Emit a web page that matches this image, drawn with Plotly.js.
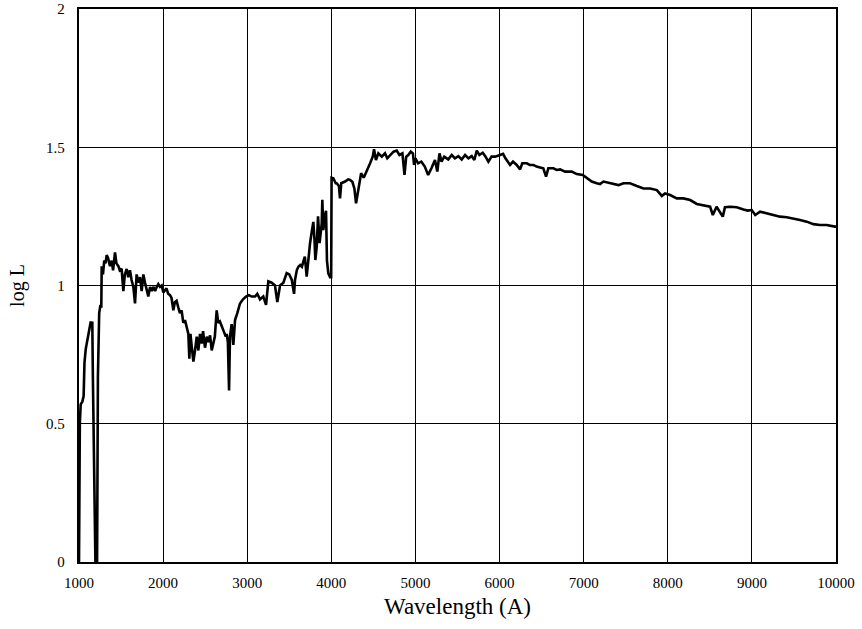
<!DOCTYPE html>
<html>
<head>
<meta charset="utf-8">
<script src="https://cdn.plot.ly/plotly-3.0.1.min.js"></script>
<style>
  html, body { margin: 0; padding: 0; background: #ffffff; }
  #chart { width: 862px; height: 629px; }
</style>
</head>
<body>
<div id="chart"></div>
<script>
// Wavelength in Angstrom
const wavelength = [
  1000, 1005, 1010, 1020, 1040, 1055, 1065, 1080, 1100, 1120, 1140, 1150, 1158, 1165, 1195,
  1215, 1225, 1240, 1255, 1265, 1270, 1285, 1300, 1315, 1329, 1345, 1369, 1389, 1405, 1428,
  1445, 1468, 1485, 1507, 1527, 1545, 1567, 1585, 1606, 1625, 1646, 1666, 1685, 1705, 1725,
  1745, 1765, 1785, 1805, 1824, 1845, 1865, 1884, 1905, 1925, 1943, 1963, 1983, 2003, 2023,
  2040, 2060, 2082, 2100, 2122, 2140, 2160, 2181, 2200, 2220, 2240, 2260, 2280, 2300, 2312,
  2325, 2340, 2360, 2379, 2400, 2419, 2439, 2460, 2475, 2498, 2520, 2540, 2558, 2578, 2598,
  2615, 2637, 2655, 2675, 2697, 2720, 2745, 2756, 2770, 2784, 2795, 2815, 2835, 2855, 2882,
  2914, 2950, 2986, 3020, 3054, 3093, 3120, 3152, 3191, 3224, 3251, 3291, 3330, 3358, 3390,
  3430, 3469, 3500, 3530, 3557, 3568, 3590, 3608, 3630, 3650, 3667, 3685, 3707, 3725, 3747,
  3765, 3786, 3800, 3810, 3826, 3835, 3842, 3860, 3886, 3893, 3905, 3920, 3937, 3948, 3964,
  3985, 3998, 4003, 4024, 4052, 4064, 4090, 4103, 4118, 4163, 4200, 4222, 4250, 4274, 4294,
  4320, 4354, 4385, 4421, 4461, 4492, 4508, 4530, 4559, 4600, 4638, 4665, 4698, 4740, 4777,
  4810, 4845, 4870, 4890, 4915, 4944, 4970, 4984, 5000, 5031, 5070, 5111, 5151, 5190, 5232,
  5260, 5286, 5310, 5342, 5390, 5432, 5470, 5510, 5550, 5590, 5630, 5669, 5700, 5729, 5760,
  5800, 5830, 5867, 5905, 5947, 6006, 6042, 6070, 6100, 6125, 6160, 6204, 6244, 6270, 6323,
  6360, 6402, 6440, 6482, 6520, 6553, 6580, 6640, 6680, 6720, 6779, 6858, 6918, 6989, 7037,
  7096, 7155, 7195, 7235, 7314, 7370, 7414, 7473, 7552, 7632, 7711, 7790, 7870, 7929, 7968,
  8028, 8107, 8186, 8266, 8345, 8424, 8503, 8535, 8580, 8654, 8680, 8740, 8820, 8900, 8950,
  8998, 9040, 9097, 9176, 9256, 9335, 9414, 9493, 9572, 9652, 9731, 9810, 9889, 9988, 10000
];

// log L values
const logL = [
  0.00, 0.30, 0.50, 0.57, 0.58, 0.60, 0.72, 0.77, 0.80, 0.84, 0.87, 0.85, 0.87, 0.67, 0.00,
  0.00, 0.67, 0.90, 0.93, 0.92, 1.07, 1.04, 1.09, 1.08, 1.11, 1.10, 1.07, 1.09, 1.055, 1.12,
  1.08, 1.07, 1.055, 1.06, 0.98, 1.04, 1.06, 1.03, 1.055, 1.02, 0.995, 0.935, 1.04, 1.01, 1.03,
  0.98, 1.04, 1.01, 0.98, 0.96, 0.995, 0.98, 0.995, 0.98, 0.995, 1.005, 0.995, 1.00, 0.975, 0.985,
  0.99, 0.97, 0.965, 0.955, 0.91, 0.94, 0.945, 0.92, 0.90, 0.91, 0.865, 0.875, 0.85, 0.825, 0.735,
  0.825, 0.78, 0.725, 0.765, 0.815, 0.765, 0.825, 0.79, 0.835, 0.775, 0.815, 0.795, 0.82, 0.765, 0.80,
  0.815, 0.91, 0.865, 0.87, 0.855, 0.835, 0.815, 0.825, 0.795, 0.62, 0.815, 0.86, 0.785, 0.875, 0.90,
  0.935, 0.95, 0.96, 0.965, 0.96, 0.96, 0.97, 0.95, 0.96, 0.93, 1.015, 1.01, 1.00, 0.94, 1.00,
  1.01, 1.045, 1.04, 1.02, 0.97, 1.02, 1.056, 1.068, 1.074, 1.068, 1.086, 1.104, 1.032, 1.092, 1.153,
  1.19, 1.23, 1.165, 1.092, 1.14, 1.21, 1.25, 1.153, 1.225, 1.31, 1.20, 1.25, 1.27, 1.09, 1.044,
  1.03, 1.03, 1.39, 1.388, 1.37, 1.37, 1.36, 1.315, 1.37, 1.376, 1.384, 1.382, 1.375, 1.351, 1.297,
  1.339, 1.406, 1.39, 1.418, 1.442, 1.466, 1.493, 1.454, 1.478, 1.466, 1.478, 1.46, 1.472, 1.484, 1.488,
  1.472, 1.478, 1.40, 1.466, 1.472, 1.484, 1.478, 1.436, 1.46, 1.442, 1.448, 1.43, 1.40, 1.424, 1.454,
  1.412, 1.478, 1.448, 1.466, 1.456, 1.472, 1.46, 1.468, 1.456, 1.472, 1.46, 1.468, 1.454, 1.488, 1.472,
  1.48, 1.468, 1.448, 1.466, 1.466, 1.472, 1.476, 1.46, 1.448, 1.436, 1.448, 1.436, 1.42, 1.442, 1.442,
  1.436, 1.436, 1.43, 1.427, 1.424, 1.394, 1.424, 1.424, 1.418, 1.42, 1.412, 1.412, 1.403, 1.40, 1.388,
  1.376, 1.37, 1.367, 1.376, 1.37, 1.367, 1.363, 1.37, 1.37, 1.36, 1.351, 1.351, 1.345, 1.324, 1.333,
  1.327, 1.315, 1.315, 1.309, 1.295, 1.291, 1.285, 1.255, 1.285, 1.249, 1.283, 1.285, 1.283, 1.275, 1.271,
  1.273, 1.255, 1.267, 1.261, 1.255, 1.249, 1.247, 1.243, 1.237, 1.231, 1.222, 1.219, 1.219, 1.213, 1.213
];

const xTickVals = [1000, 2000, 3000, 4000, 5000, 6000, 7000, 8000, 9000, 10000];
const xTickText = ["1000", "2000", "3000", "4000", "5000", "6000", "7000", "8000", "9000", "10000"];
const yTickVals = [0, 0.5, 1, 1.5, 2];
const yTickText = ["0", "0.5", "1", "1.5", "2"];

const serif = "Liberation Serif, Times New Roman, serif";

const trace = {
  x: wavelength,
  y: logL,
  type: "scatter",
  mode: "lines",
  line: { color: "#000000", width: 2.6 },
  hoverinfo: "skip",
  showlegend: false
};

const layout = {
  width: 862,
  height: 629,
  margin: { l: 79, r: 26, t: 9, b: 67 },
  paper_bgcolor: "#ffffff",
  plot_bgcolor: "#ffffff",
  font: { family: serif, color: "#000000", size: 15 },
  xaxis: {
    range: [1000, 10000],
    tickvals: xTickVals,
    ticktext: xTickText,
    showgrid: true,
    gridcolor: "#000000",
    gridwidth: 1.2,
    zeroline: false,
    showline: true,
    linecolor: "#000000",
    linewidth: 2.2,
    mirror: true,
    ticks: "",
    ticklabelstandoff: 6,
    tickfont: { family: serif, size: 15, color: "#000000" },
    title: { text: "Wavelength (A)", font: { family: serif, size: 23, color: "#000000" }, standoff: 8 }
  },
  yaxis: {
    range: [0, 2],
    tickvals: yTickVals,
    ticktext: yTickText,
    showgrid: true,
    gridcolor: "#000000",
    gridwidth: 1.2,
    zeroline: false,
    showline: true,
    linecolor: "#000000",
    linewidth: 2.2,
    mirror: true,
    ticks: "",
    ticklabelstandoff: 9,
    tickfont: { family: serif, size: 15, color: "#000000" },
    title: { text: "log L", font: { family: serif, size: 20, color: "#000000" }, standoff: 16 }
  }
};

Plotly.newPlot("chart", [trace], layout, { displayModeBar: false, staticPlot: true });
</script>
</body>
</html>
